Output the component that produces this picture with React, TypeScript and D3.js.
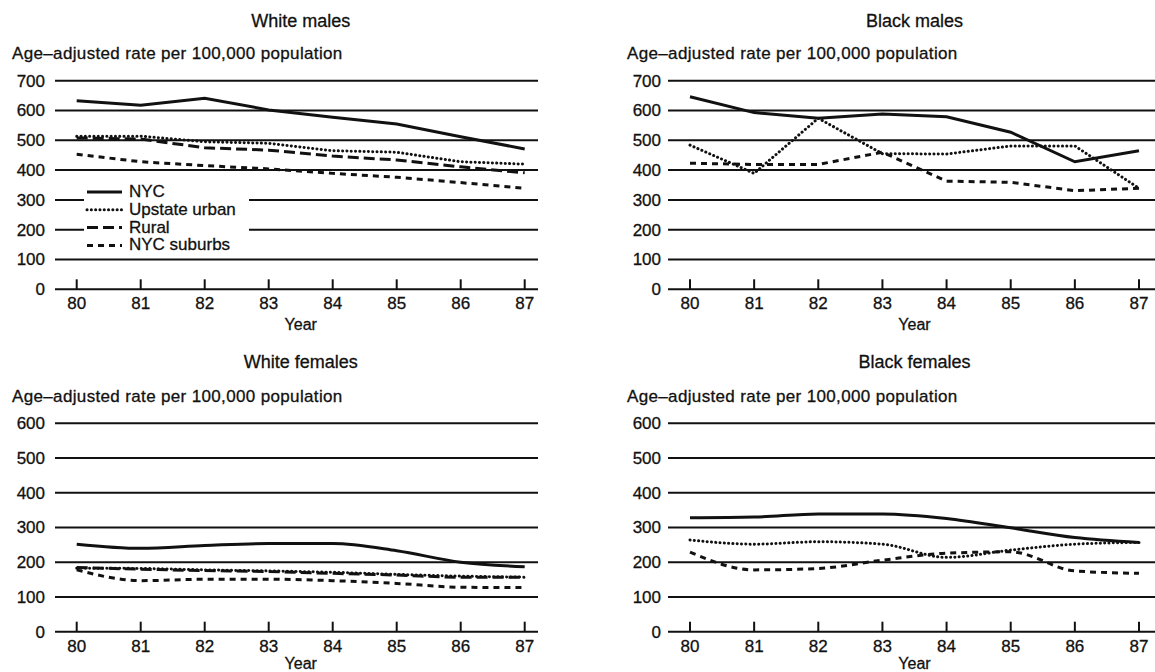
import * as d3 from "d3";
import { useEffect, useRef } from "react";

// years on the x axis (19xx)
const years = [80, 81, 82, 83, 84, 85, 86, 87];

// White males
const whiteMalesNYC = [633, 618, 641, 602, 577, 555, 512, 471];
const whiteMalesUpstate = [514, 514, 495, 490, 465, 460, 428, 420];
const whiteMalesRural = [508, 504, 475, 467, 447, 434, 411, 391];
const whiteMalesSuburbs = [453, 428, 415, 404, 389, 376, 358, 339];

// Black males
const blackMalesNYC = [646, 593, 574, 588, 579, 527, 428, 465];
const blackMalesUpstate = [484, 389, 574, 455, 454, 481, 481, 339];
const blackMalesSuburbs = [423, 419, 419, 460, 363, 359, 331, 339];

// White females
const whiteFemalesNYC = [252, 240, 248, 254, 254, 233, 200, 187];
const whiteFemalesUpstate = [183, 182, 178, 175, 171, 165, 160, 157];
const whiteFemalesRural = [185, 180, 176, 173, 168, 163, 157, 157];
const whiteFemalesSuburbs = [178, 147, 151, 151, 147, 139, 128, 127];

// Black females
const blackFemalesNYC = [328, 330, 339, 339, 326, 299, 271, 257];
const blackFemalesUpstate = [264, 252, 259, 252, 214, 235, 252, 257];
const blackFemalesSuburbs = [229, 178, 182, 206, 226, 230, 175, 168];

const topTicks = [0, 100, 200, 300, 400, 500, 600, 700];
const bottomTicks = [0, 100, 200, 300, 400, 500, 600];

const legendNames = ["NYC", "Upstate urban", "Rural", "NYC suburbs"];

const lineStyles = {
    "NYC": { dash: null, cap: "butt" },
    "Upstate urban": { dash: "0.1,4.2", cap: "round" },
    "Rural": { dash: "11,5", cap: "butt" },
    "NYC suburbs": { dash: "6,5", cap: "butt" }
};

const FONT = "'Liberation Sans', Arial, Helvetica, sans-serif";

const panels = [
    {
        title: "White males", ticks: topTicks, max: 700,
        left: 55, right: 538, x0: 76.7, x1: 524.7, top: 80.7, bottom: 289.3,
        titleY: 21, labelY: 53, labelX: 12, smooth: false,
        series: [
            { name: "NYC", values: whiteMalesNYC },
            { name: "Upstate urban", values: whiteMalesUpstate },
            { name: "Rural", values: whiteMalesRural },
            { name: "NYC suburbs", values: whiteMalesSuburbs }
        ],
        legend: true
    },
    {
        title: "Black males", ticks: topTicks, max: 700,
        left: 668, right: 1155, x0: 690, x1: 1139, top: 80.7, bottom: 289.3,
        titleY: 21, labelY: 53, labelX: 627, smooth: false,
        series: [
            { name: "NYC", values: blackMalesNYC },
            { name: "Upstate urban", values: blackMalesUpstate },
            { name: "NYC suburbs", values: blackMalesSuburbs }
        ],
        legend: false
    },
    {
        title: "White females", ticks: bottomTicks, max: 600,
        left: 55, right: 538, x0: 76.7, x1: 524.7, top: 423.3, bottom: 631.7,
        titleY: 362, labelY: 396, labelX: 12, smooth: true,
        series: [
            { name: "NYC", values: whiteFemalesNYC },
            { name: "Upstate urban", values: whiteFemalesUpstate },
            { name: "Rural", values: whiteFemalesRural },
            { name: "NYC suburbs", values: whiteFemalesSuburbs }
        ],
        legend: false
    },
    {
        title: "Black females", ticks: bottomTicks, max: 600,
        left: 668, right: 1155, x0: 690, x1: 1139, top: 423.3, bottom: 631.7,
        titleY: 362, labelY: 396, labelX: 627, smooth: true,
        series: [
            { name: "NYC", values: blackFemalesNYC },
            { name: "Upstate urban", values: blackFemalesUpstate },
            { name: "NYC suburbs", values: blackFemalesSuburbs }
        ],
        legend: false
    }
];

const App = () => {
    const svgRef = useRef(null);

    useEffect(() => {
        const svg = d3.select(svgRef.current);
        svg.selectAll("*").remove();

        // helper so text looks a bit heavier, like the printed original
        const txt = (sel, size) => sel
            .style("font-size", size + "px")
            .attr("fill", "#111")
            .attr("stroke", "#111")
            .attr("stroke-width", 0.3);

        panels.forEach(p => {
            const g = svg.append("g");
            const x = d3.scaleLinear().domain([80, 87]).range([p.x0, p.x1]);
            const y = d3.scaleLinear().domain([0, p.max]).range([p.bottom, p.top]);
            const mid = (p.x0 + p.x1) / 2;

            txt(g.append("text")
                .attr("x", mid).attr("y", p.titleY)
                .attr("dy", "0.35em")
                .attr("text-anchor", "middle"), 18)
                .text(p.title);

            txt(g.append("text")
                .attr("x", p.labelX).attr("y", p.labelY)
                .attr("dy", "0.35em")
                .style("letter-spacing", "0.35px"), 17)
                .text("Age–adjusted rate per 100,000 population");

            // horizontal grid lines
            g.selectAll(".grid")
                .data(p.ticks)
                .enter()
                .append("line")
                .attr("x1", p.left).attr("x2", p.right)
                .attr("y1", d => y(d)).attr("y2", d => y(d))
                .attr("stroke", "#111")
                .attr("stroke-width", 2);

            txt(g.selectAll(".ylab")
                .data(p.ticks)
                .enter()
                .append("text")
                .attr("x", p.left - (p.left < 100 ? 10 : 7))
                .attr("y", d => y(d))
                .attr("dy", "0.35em")
                .attr("text-anchor", "end"), 17)
                .text(d => d);

            // x ticks
            g.selectAll(".xtick")
                .data(years)
                .enter()
                .append("line")
                .attr("x1", d => x(d)).attr("x2", d => x(d))
                .attr("y1", y(0)).attr("y2", y(0) - 10)
                .attr("stroke", "#111")
                .attr("stroke-width", 2);

            txt(g.selectAll(".xlab")
                .data(years)
                .enter()
                .append("text")
                .attr("x", d => x(d))
                .attr("y", y(0) + 14)
                .attr("dy", "0.35em")
                .attr("text-anchor", "middle"), 17)
                .text(d => d);

            txt(g.append("text")
                .attr("x", mid).attr("y", Math.min(y(0) + 35, 663))
                .attr("dy", "0.35em")
                .attr("text-anchor", "middle"), 16)
                .text("Year");

            const line = d3.line()
                .x((d, i) => x(years[i]))
                .y(d => y(d))
                .curve(p.smooth ? d3.curveMonotoneX : d3.curveLinear);

            if (p.legend) {
                const lx0 = 87, lx1 = 122, ly = 191, step = 17.8;
                g.append("rect")
                    .attr("x", 84).attr("y", 180)
                    .attr("width", 165).attr("height", 70)
                    .attr("fill", "white");
                legendNames.forEach((name, i) => {
                    const st = lineStyles[name];
                    g.append("line")
                        .attr("x1", lx0).attr("x2", lx1)
                        .attr("y1", ly + i * step + 1).attr("y2", ly + i * step + 1)
                        .attr("stroke", "#111")
                        .attr("stroke-width", 3)
                        .attr("stroke-linecap", st.cap)
                        .attr("stroke-dasharray", st.dash);
                    txt(g.append("text")
                        .attr("x", 129).attr("y", ly + i * step)
                        .attr("dy", "0.35em"), 17)
                        .text(name);
                });
            }

            p.series.forEach(s => {
                const st = lineStyles[s.name];
                g.append("path")
                    .datum(s.values)
                    .attr("d", line)
                    .attr("fill", "none")
                    .attr("stroke", "#111")
                    .attr("stroke-width", 3)
                    .attr("stroke-linecap", st.cap)
                    .attr("stroke-dasharray", st.dash);
            });
        });
    }, []);

    return (
        <svg
            ref={svgRef}
            width={1155}
            height={672}
            style={{ position: "absolute", left: 0, top: 0, background: "white", fontFamily: FONT }}
        />
    );
};

export default App;
